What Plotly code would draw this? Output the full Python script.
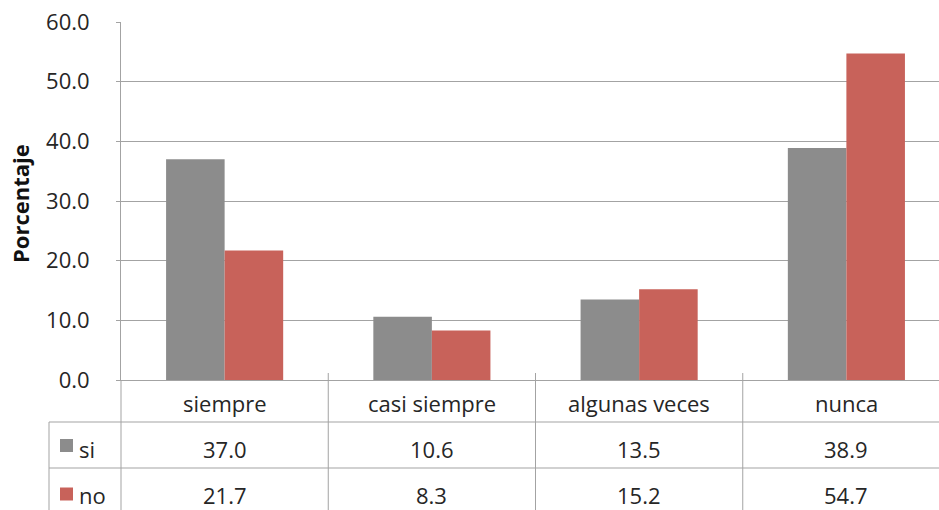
import plotly.graph_objects as go

# Survey results: share of answers per frequency category
categories = ["siempre", "casi siempre", "algunas veces", "nunca"]
series_names = ["si", "no"]
si_values = [37.0, 10.6, 13.5, 38.9]
no_values = [21.7, 8.3, 15.2, 54.7]
y_ticks = [0, 10, 20, 30, 40, 50, 60]

GRAY = "#8c8c8c"
RED = "#c8625a"
LINE = "#a3a3a3"
TEXT = "#262626"
FONT = "Open Sans"

W, H = 939, 510
ML, MT, MB = 121, 22, 130
PW, PH = W - ML, H - MT - MB

# last category is partially cut by the right edge of the canvas
x_range = [-0.5, 3.5 - 11 / 207]


def py(pix):
    """pixel row -> paper y"""
    return (H - MB - pix) / PH


def px(pix):
    """pixel column -> paper x"""
    return (pix - ML) / PW


fig = go.Figure()
fig.add_bar(x=list(range(len(categories))), y=si_values, name=series_names[0],
            marker=dict(color=GRAY, line=dict(width=0)))
fig.add_bar(x=list(range(len(categories))), y=no_values, name=series_names[1],
            marker=dict(color=RED, line=dict(width=0)))

shapes = []
annotations = []

# data table: column separators (with small tick above the axis)
for b in range(len(categories) - 1):
    shapes.append(dict(type="line", xref="x", yref="paper", x0=b + 0.5, x1=b + 0.5,
                       y0=py(373), y1=py(515), line=dict(color=LINE, width=1)))
# left border of the category columns and of the legend column
shapes.append(dict(type="line", xref="paper", yref="paper", x0=0, x1=0,
                   y0=py(380), y1=py(515), line=dict(color=LINE, width=1)))
shapes.append(dict(type="line", xref="paper", yref="paper", x0=px(49), x1=px(49),
                   y0=py(422), y1=py(515), line=dict(color=LINE, width=1)))
# row separators
for r in (422, 468):
    shapes.append(dict(type="line", xref="paper", yref="paper", x0=px(49), x1=1,
                       y0=py(r), y1=py(r), line=dict(color=LINE, width=1)))

# header row with the category names
for i, c in enumerate(categories):
    annotations.append(dict(x=i, y=py(403), xref="x", yref="paper", text=c,
                            showarrow=False, xanchor="center", yanchor="middle",
                            font=dict(family=FONT, size=22, color=TEXT)))

# value rows with legend keys: (name, values, colour, text row, key centre)
rows = [(series_names[0], si_values, GRAY, 449, 445.5),
        (series_names[1], no_values, RED, 495, 494)]
for name, vals, col, yc, kc in rows:
    shapes.append(dict(type="rect", xref="paper", yref="paper",
                       x0=px(60), x1=px(73), y0=py(kc + 6.5), y1=py(kc - 6.5),
                       fillcolor=col, line=dict(width=0)))
    annotations.append(dict(x=px(77), y=py(yc), xref="paper", yref="paper", text=name,
                            showarrow=False, xanchor="left", yanchor="middle",
                            font=dict(family=FONT, size=22, color=TEXT)))
    for i, v in enumerate(vals):
        annotations.append(dict(x=i, y=py(yc), xref="x", yref="paper", text=f"{v:.1f}",
                                showarrow=False, xanchor="center", yanchor="middle",
                                font=dict(family=FONT, size=22, color=TEXT)))

# y-axis title
annotations.append(dict(x=px(20), y=py(204), xref="paper", yref="paper", text="<b>Porcentaje</b>",
                        textangle=-90, showarrow=False, xanchor="center", yanchor="middle",
                        font=dict(family=FONT, size=22, color="#111111")))

fig.update_layout(
    width=W, height=H,
    margin=dict(l=ML, r=0, t=MT, b=MB, pad=0),
    paper_bgcolor="white", plot_bgcolor="white",
    barmode="group", bargap=0.435, bargroupgap=0,
    showlegend=False,
    shapes=shapes, annotations=annotations,
    font=dict(family=FONT, color=TEXT),
)
fig.update_xaxes(range=x_range, showticklabels=False, showgrid=False, zeroline=False,
                 showline=True, linecolor=LINE, linewidth=1, ticks="")
fig.update_yaxes(range=[0, 60], tickvals=y_ticks, ticktext=[f"{t:.1f}" for t in y_ticks],
                 showgrid=True, gridcolor=LINE, gridwidth=1, zeroline=False,
                 showline=True, linecolor=LINE, linewidth=1,
                 ticks="outside", ticklen=4, tickcolor=LINE, ticklabelstandoff=22,
                 tickfont=dict(family=FONT, size=22, color=TEXT))

fig.write_html("out.html")
